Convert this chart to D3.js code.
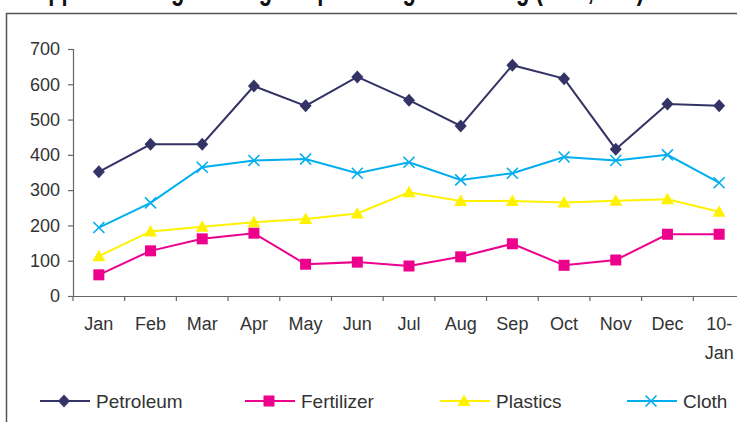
<!DOCTYPE html>
<html>
<head>
<meta charset="utf-8">
<script src="https://cdn.jsdelivr.net/npm/d3@7"></script>
<style>
  html, body { margin: 0; padding: 0; background: #fff; overflow: hidden; }
  svg { display: block; font-family: "Liberation Sans", Arial, sans-serif; }
</style>
</head>
<body>
<svg id="chart" width="737" height="422"></svg>
<script>
const titleText = "Shipped Tonnage through Import Cargo Handling (in kt, 000)";
const categories = ["Jan","Feb","Mar","Apr","May","Jun","Jul","Aug","Sep","Oct","Nov","Dec","10-Jan"];
const yTicks = [0,100,200,300,400,500,600,700];
const seriesNames = ["Petroleum","Fertilizer","Plastics","Cloth"];
const petroleum  = [352,430,430,595,539,621,555,482,654,616,416,544,539];
const fertilizer = [60,128,162,178,90,96,85,111,148,87,102,175,175];
const plastics   = [113,183,196,209,218,234,294,269,269,265,270,274,239];
const cloth      = [194,264,365,384,388,348,379,329,348,394,384,400,321];

const series = [
  {name: seriesNames[0], values: petroleum,  color: "#333366", marker: "diamond"},
  {name: seriesNames[1], values: fertilizer, color: "#EC008C", marker: "square"},
  {name: seriesNames[2], values: plastics,   color: "#FFF200", marker: "triangle"},
  {name: seriesNames[3], values: cloth,      color: "#00AEEF", marker: "x"}
];

const svg = d3.select("#chart");
const textColor = "#333333";
const axisColor = "#666666";

// title (cropped at top, like the reference: only descenders show)
svg.append("text")
  .attr("x", 14).attr("y", -1)
  .attr("font-size", 32).attr("font-weight", "bold")
  .attr("textLength", 630).attr("lengthAdjust", "spacingAndGlyphs")
  .attr("fill", "#111")
  .text(titleText);

// frame
svg.append("path")
  .attr("d", "M6.5,430 V13.5 H745")
  .attr("fill", "none").attr("stroke", "#555").attr("stroke-width", 1.5);

const x = d3.scaleBand().domain(categories).range([73, 745]).padding(0);
const y = d3.scaleLinear().domain([0, 700]).range([296, 49]);
const cx = c => x(c) + x.bandwidth() / 2;

// y axis
const yAxis = svg.append("g").attr("transform", "translate(73,0)")
  .call(d3.axisLeft(y).tickValues(yTicks).tickSize(5).tickPadding(8).tickFormat(d3.format("d")));
yAxis.select(".domain").attr("stroke", axisColor).attr("stroke-width", 1.2);
yAxis.selectAll(".tick line").attr("stroke", axisColor).attr("stroke-width", 1.2);
yAxis.selectAll(".tick text").attr("fill", textColor).attr("font-size", 18)
  .attr("font-family", "'Liberation Sans', Arial, sans-serif");

// x axis
const xAxis = svg.append("g").attr("transform", "translate(0,296)")
  .call(d3.axisBottom(x).tickSize(0).tickPadding(0).tickFormat(""));
xAxis.select(".domain").attr("stroke", axisColor).attr("stroke-width", 1.2);
xAxis.selectAll(".tick").remove();
const bounds = categories.map(c => x(c)).concat([x.range()[1]]);
xAxis.selectAll("line.bt").data(bounds).enter().append("line")
  .attr("class", "bt")
  .attr("x1", d => d).attr("x2", d => d).attr("y1", 0).attr("y2", 5)
  .attr("stroke", axisColor).attr("stroke-width", 1.2);
const xl = svg.append("g");
categories.forEach(c => {
  const parts = c === "10-Jan" ? ["10-", "Jan"] : [c];
  const t = xl.append("text").attr("text-anchor", "middle")
    .attr("fill", textColor).attr("font-size", 18);
  parts.forEach((p, i) => {
    t.append("tspan").attr("x", cx(c)).attr("y", 330 + i * 29).text(p);
  });
});

// markers
function markerPath(type) {
  switch (type) {
    case "diamond": return "M0,-6.5 L6,0 L0,6.5 L-6,0 Z";
    case "square": return "M-5.5,-5.5 H5.5 V5.5 H-5.5 Z";
    case "triangle": return "M0,-6.5 L6.5,5 L-6.5,5 Z";
    case "x": return "M-5.5,-5.5 L5.5,5.5 M-5.5,5.5 L5.5,-5.5";
  }
}
function drawMarker(g, type, color, px, py) {
  const m = g.append("path").attr("d", markerPath(type))
    .attr("transform", `translate(${px},${py})`);
  if (type === "x") m.attr("fill", "none").attr("stroke", color).attr("stroke-width", 1.6);
  else m.attr("fill", color).attr("stroke", "none");
}

const line = d3.line().x((d, i) => cx(categories[i])).y(d => y(d));
series.forEach(s => {
  const g = svg.append("g");
  g.append("path").datum(s.values).attr("d", line)
    .attr("fill", "none").attr("stroke", s.color).attr("stroke-width", 2);
  s.values.forEach((v, i) => drawMarker(g, s.marker, s.color, cx(categories[i]), y(v)));
});

// legend
const legendX = [40, 245, 440, 627];
series.forEach((s, i) => {
  const g = svg.append("g").attr("transform", `translate(${legendX[i]},401)`);
  g.append("line").attr("x1", 0).attr("x2", 50).attr("y1", 0).attr("y2", 0)
    .attr("stroke", s.color).attr("stroke-width", 2);
  drawMarker(g, s.marker, s.color, 24, 0);
  g.append("text").attr("x", 56).attr("y", 6.5).attr("fill", textColor)
    .attr("font-size", 19).text(s.name);
});
</script>
</body>
</html>
